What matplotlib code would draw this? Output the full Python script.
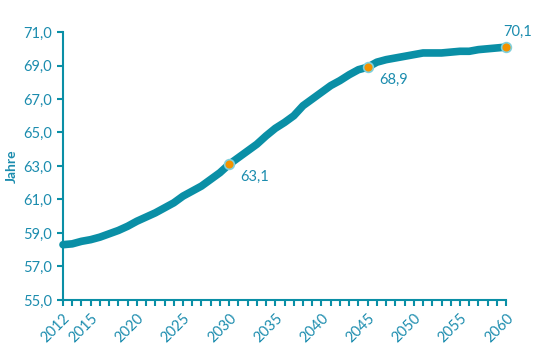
import matplotlib.pyplot as plt

# Jahre (x) und Werte (y)
years = list(range(2012, 2061))
values = [58.3, 58.35, 58.5, 58.6, 58.75, 58.95, 59.15, 59.4, 59.7, 59.95,
          60.2, 60.5, 60.8, 61.2, 61.5, 61.8, 62.2, 62.6, 63.1, 63.5,
          63.9, 64.3, 64.8, 65.25, 65.6, 66.0, 66.6, 67.0, 67.4, 67.8,
          68.1, 68.45, 68.75, 68.9, 69.2, 69.35, 69.45, 69.55, 69.65, 69.75,
          69.75, 69.75, 69.8, 69.85, 69.85, 69.95, 70.0, 70.05, 70.1]
marked_years = [2030, 2045, 2060]
marked_labels = ['63,1', '68,9', '70,1']
tick_years = [2012, 2015, 2020, 2025, 2030, 2035, 2040, 2045, 2050, 2055, 2060]
y_ticks = [55, 57, 59, 61, 63, 65, 67, 69, 71]

teal = '#0a8fa6'
text_col = '#1b8cae'
orange = '#f39200'

plt.rcParams['font.family'] = ['Lato', 'DejaVu Sans']

fig = plt.figure(figsize=(5.56, 3.64), dpi=100)
ax = fig.add_axes([0.1133, 0.176, 0.797, 0.736])

ax.plot(years, values, color=teal, lw=5.5, solid_capstyle='round', zorder=2,
        clip_on=False)

for yr, lab in zip(marked_years, marked_labels):
    v = values[years.index(yr)]
    ax.plot(yr, v, 'o', ms=7, mfc=orange, mec='#7fd0dc', mew=1.2, zorder=3,
            clip_on=False)
    if yr == 2060:
        ax.annotate(lab, (yr, v), xytext=(-2, 6), textcoords='offset points',
                    color=text_col, fontsize=10.5, ha='left', va='bottom')
    else:
        ax.annotate(lab, (yr, v), xytext=(8, -4), textcoords='offset points',
                    color=text_col, fontsize=10.5, ha='left', va='top')

ax.set_xlim(2012, 2060)
ax.set_ylim(55, 71)
ax.set_yticks(y_ticks)
ax.set_yticklabels([f'{t},0' for t in y_ticks])
ax.set_xticks(years, minor=True)
ax.set_xticks(tick_years)
ax.set_xticklabels([str(t) for t in tick_years], rotation=45, ha='right',
                   rotation_mode='anchor')

ax.tick_params(axis='both', colors=teal, labelcolor=text_col, labelsize=10.5,
               width=1.5)
ax.tick_params(axis='x', which='both', length=4, pad=4)
ax.tick_params(axis='x', which='minor', length=4, width=1.5, colors=teal)
ax.tick_params(axis='y', length=4, pad=4)

for s in ['top', 'right']:
    ax.spines[s].set_visible(False)
for s in ['left', 'bottom']:
    ax.spines[s].set_color(teal)
    ax.spines[s].set_linewidth(1.5)

ax.set_ylabel('Jahre', color=text_col, fontsize=10, fontweight='bold', labelpad=4)

fig.savefig('out.png', dpi=100)
